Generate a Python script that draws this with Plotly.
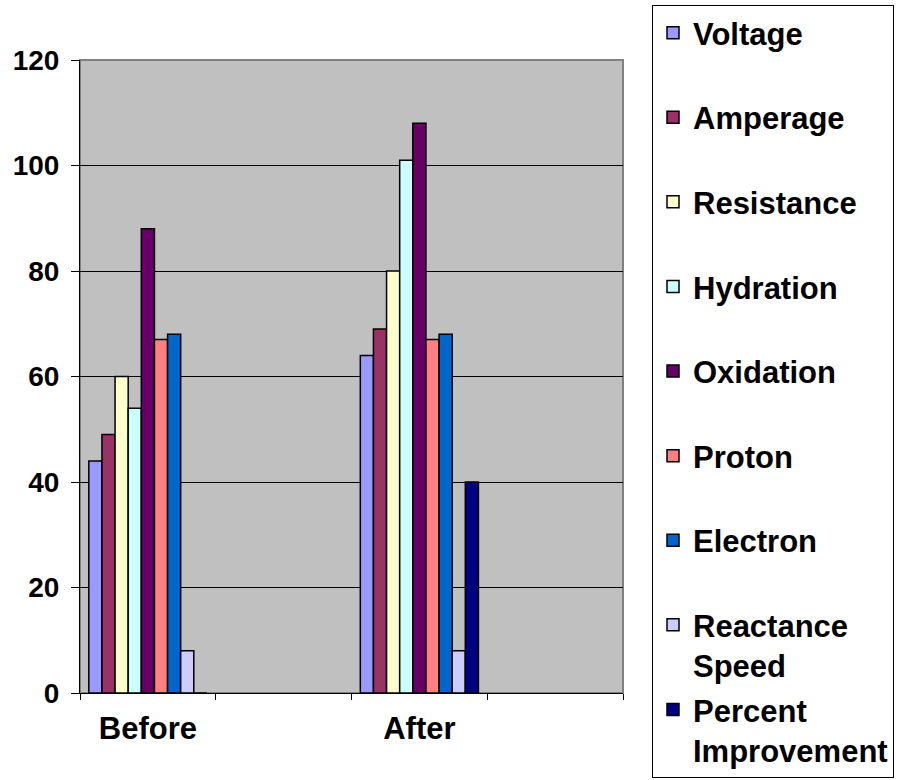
import plotly.graph_objects as go

categories = ["Before", "After"]
axis_slots = ["Before", "slot2", "After", "slot4"]
axis_labels = ["Before", "", "After", ""]

series_names = ["Voltage", "Amperage", "Resistance", "Hydration", "Oxidation",
                "Proton", "Electron", "Reactance Speed", "Percent Improvement"]
legend_labels = ["Voltage<br> ", "Amperage<br> ", "Resistance<br> ", "Hydration<br> ",
                 "Oxidation<br> ", "Proton<br> ", "Electron<br> ",
                 "Reactance<br>Speed", "Percent<br>Improvement"]
before_values = [44, 49, 60, 54, 88, 67, 68, 8, 0]
after_values = [64, 69, 80, 101, 108, 67, 68, 8, 40]
colors = ["#9999FF", "#993366", "#FFFFCC", "#CCFFFF", "#660066",
          "#FF8080", "#0066CC", "#CCCCFF", "#000080"]

y_ticks = [0, 20, 40, 60, 80, 100, 120]

FONT = "Liberation Sans, Arial, sans-serif"

fig = go.Figure()
for i, name in enumerate(series_names):
    fig.add_trace(go.Bar(
        x=categories,
        y=[before_values[i], after_values[i]],
        name="<b>" + legend_labels[i].replace("<br>", "</b><br><b>") + "</b>",
        marker=dict(color=colors[i], line=dict(color="black", width=1.5)),
        legendgroup=name,
    ))

fig.update_layout(
    width=900, height=780,
    margin=dict(l=80, r=277, t=60, b=87),
    paper_bgcolor="white",
    plot_bgcolor="#C0C0C0",
    barmode="group",
    bargap=0.13,
    bargroupgap=0,
    font=dict(family=FONT, size=29, color="black"),
    xaxis=dict(
        type="category",
        categoryorder="array",
        categoryarray=axis_slots,
        tickvals=axis_slots,
        ticktext=[f"<b>{t}</b>" for t in axis_labels],
        tickson="boundaries",
        ticks="outside", ticklen=6, tickcolor="black",
        showline=True, linecolor="black", linewidth=1,
        showgrid=False,
        tickfont=dict(family=FONT, size=31),
        ticklabelstandoff=8,
        range=[-0.5, 3.5],
    ),
    yaxis=dict(
        range=[0, 120],
        tickvals=y_ticks,
        ticktext=[f"<b>{t}</b>" for t in y_ticks],
        ticks="outside", ticklen=8, tickcolor="black",
        showline=True, linecolor="black", linewidth=1,
        showgrid=True, gridcolor="black", gridwidth=1,
        zeroline=False,
        tickfont=dict(family=FONT, size=28),
        ticklabelstandoff=6,
    ),
    legend=dict(
        xref="container", yref="container",
        x=652 / 900, y=1 - 5 / 780,
        xanchor="left", yanchor="top",
        bordercolor="black", borderwidth=1,
        bgcolor="white",
        font=dict(family=FONT, size=31, color="black"),
        valign="top",
        tracegroupgap=1,
        itemclick=False,
        maxheight=780,
    ),
    shapes=[dict(type="rect", xref="paper", yref="paper", x0=0, x1=1, y0=0, y1=1,
                 line=dict(color="#808080", width=2), layer="below")],
)

fig.write_html("out.html", config={"displayModeBar": False},
               post_script="document.body.style.margin='0';")
